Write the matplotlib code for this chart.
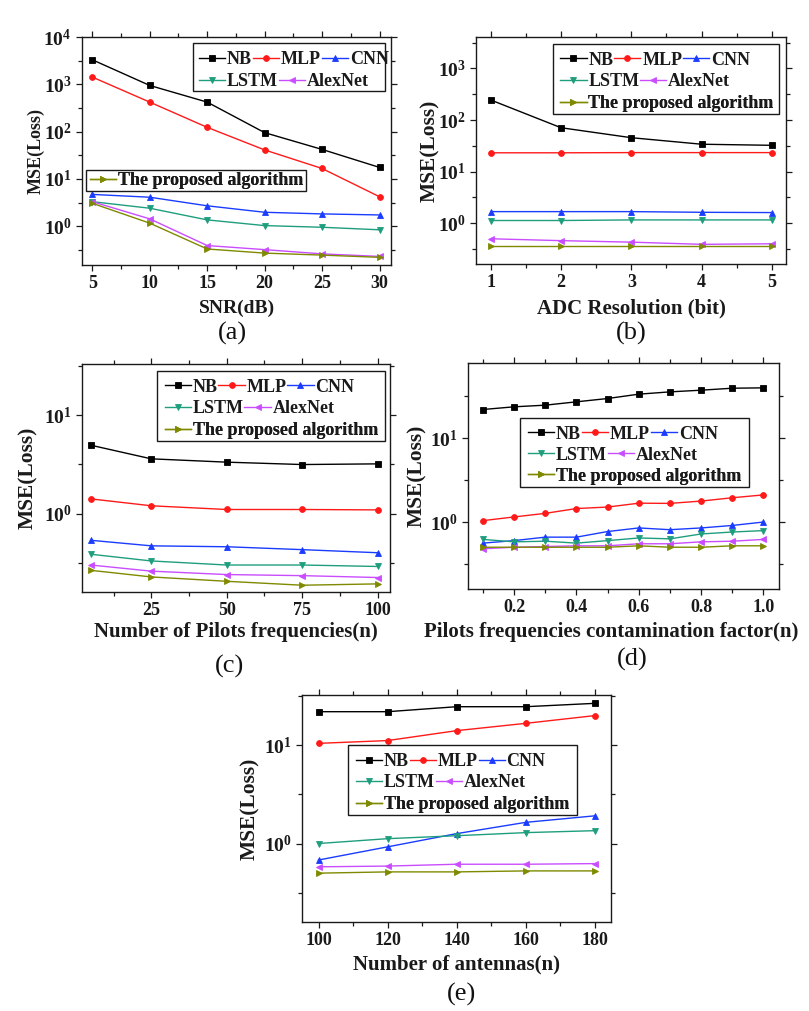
import math
import matplotlib
matplotlib.use("Agg")
import matplotlib.pyplot as plt
from matplotlib.patches import Rectangle
from matplotlib.ticker import LogLocator, FixedLocator, NullFormatter

plt.rcParams['font.family'] = ['Liberation Serif', 'DejaVu Serif']
plt.rcParams['mathtext.fontset'] = 'custom'
plt.rcParams['mathtext.rm'] = 'Liberation Serif:bold'
plt.rcParams['mathtext.it'] = 'Liberation Serif:bold'
plt.rcParams['mathtext.bf'] = 'Liberation Serif:bold'

series_names = ["NB", "MLP", "CNN", "LSTM", "AlexNet", "The proposed algorithm"]
colors = ["#000000", "#ff1a1a", "#1a3cff", "#1f9e7e", "#c94dff", "#7f8a00"]
markers = ["s", "o", "^", "v", "<", ">"]

# (a) SNR
snr = [5, 10, 15, 20, 25, 30]
a_nb = [3300, 945, 420, 95, 42, 17.5]
a_mlp = [1420, 420, 123, 41, 16.6, 4.2]
a_cnn = [4.7, 4.1, 2.7, 1.97, 1.82, 1.73]
a_lstm = [3.3, 2.4, 1.36, 1.03, 0.95, 0.84]
a_alex = [3.3, 1.43, 0.39, 0.32, 0.26, 0.23]
a_prop = [3.05, 1.16, 0.33, 0.27, 0.245, 0.22]

# (b) ADC resolution
adc = [1, 2, 3, 4, 5]
b_nb = [245, 71, 45.5, 34, 32.4]
b_mlp = [23.2, 23.2, 23.4, 23.4, 23.4]
b_cnn = [1.68, 1.68, 1.68, 1.63, 1.61]
b_lstm = [1.13, 1.13, 1.16, 1.16, 1.16]
b_alex = [0.50, 0.46, 0.43, 0.39, 0.40]
b_prop = [0.37, 0.37, 0.37, 0.37, 0.37]

# (c) Number of pilots
pilots = [5, 25, 50, 75, 100]
c_nb = [4.95, 3.6, 3.33, 3.15, 3.2]
c_mlp = [1.41, 1.2, 1.1, 1.1, 1.09]
c_cnn = [0.535, 0.47, 0.46, 0.43, 0.40]
c_lstm = [0.386, 0.33, 0.30, 0.30, 0.29]
c_alex = [0.30, 0.26, 0.24, 0.234, 0.224]
c_prop = [0.265, 0.227, 0.205, 0.187, 0.193]

# (d) contamination factor
contam = [0.1, 0.2, 0.3, 0.4, 0.5, 0.6, 0.7, 0.8, 0.9, 1.0]
d_nb = [22.1, 23.8, 24.9, 27.3, 29.9, 33.7, 35.9, 37.6, 39.7, 40.1]
d_mlp = [1.04, 1.15, 1.27, 1.45, 1.51, 1.68, 1.67, 1.78, 1.95, 2.11]
d_cnn = [0.56, 0.60, 0.66, 0.66, 0.77, 0.85, 0.81, 0.85, 0.91, 1.0]
d_lstm = [0.62, 0.58, 0.59, 0.56, 0.60, 0.645, 0.63, 0.72, 0.76, 0.79]
d_alex = [0.48, 0.50, 0.51, 0.52, 0.52, 0.55, 0.55, 0.58, 0.59, 0.62]
d_prop = [0.50, 0.50, 0.50, 0.50, 0.50, 0.52, 0.50, 0.50, 0.52, 0.52]

# (e) Number of antennas
antennas = [100, 120, 140, 160, 180]
e_nb = [21.8, 21.8, 24.5, 24.5, 26.5]
e_mlp = [10.4, 11.1, 14.0, 16.6, 19.9]
e_cnn = [0.68, 0.925, 1.26, 1.64, 1.91]
e_lstm = [1.0, 1.12, 1.2, 1.29, 1.35]
e_alex = [0.58, 0.59, 0.616, 0.616, 0.625]
e_prop = [0.50, 0.515, 0.515, 0.527, 0.527]

W, H = 809, 1011
fig = plt.figure(figsize=(W / 100, H / 100), dpi=100)
INK = '#1a1a1a'


def make_ax(x0, y0, x1, y1):
    return fig.add_axes([x0 / W, 1 - y1 / H, (x1 - x0) / W, (y1 - y0) / H])


def style(ax, xlim, ylim, xticks, xminor, xlabels, xlabel, xl_pos, yl_pos, ymajor,
          xlsize=15, ylsize=15.5):
    ax.set_yscale('log')
    ax.set_xlim(*xlim)
    ax.set_ylim(*ylim)
    ax.xaxis.set_major_locator(FixedLocator(xticks))
    ax.set_xticklabels(xlabels)
    ax.xaxis.set_minor_locator(FixedLocator(xminor))
    ax.yaxis.set_major_locator(FixedLocator(ymajor))
    ax.set_yticklabels([r'$\mathbf{10^{%d}}$' % int(round(math.log10(v))) for v in ymajor])
    ax.yaxis.set_minor_locator(LogLocator(base=10, subs=[3.1623], numticks=20))
    ax.yaxis.set_minor_formatter(NullFormatter())
    ax.tick_params(which='both', direction='out', top=True, right=True,
                   labeltop=False, labelright=False, width=0.9, color=INK)
    ax.tick_params(which='major', length=4)
    ax.tick_params(which='minor', length=3)
    for lab in ax.get_xticklabels():
        lab.set_fontfamily('Liberation Serif')
        lab.set_fontweight('bold')
        lab.set_fontsize(13)
        lab.set_color(INK)
    for lab in ax.get_yticklabels():
        lab.set_fontsize(14)
        lab.set_color(INK)
    for s in ax.spines.values():
        s.set_linewidth(1.0)
        s.set_color(INK)
    ax.set_xlabel(xlabel, fontsize=xlsize, fontweight='bold', color=INK)
    ax.xaxis.set_label_coords(*xl_pos)
    ax.set_ylabel('MSE(Loss)', fontsize=ylsize, fontweight='bold', color=INK)
    ax.yaxis.set_label_coords(*yl_pos)


def plot_all(ax, x, ys):
    lines = []
    for y, c, m, n in zip(ys, colors, markers, series_names):
        ln, = ax.plot(x, y, color=c, marker=m, markersize=4.2, linewidth=1.0,
                      markeredgewidth=0.6, label=n)
        lines.append(ln)
    return lines


leg_kw = dict(frameon=False, handlelength=1.45, handletextpad=0.1,
              columnspacing=0.05, borderpad=0.0, borderaxespad=0.0,
              prop=dict(family='Liberation Serif', weight='bold', size=13))


def add_row(ax, handles, x, y):
    lg = ax.legend(handles, [h.get_label() for h in handles], ncol=len(handles),
                   loc='center left', bbox_to_anchor=(x, y), **leg_kw)
    for t in lg.get_texts():
        t.set_color(INK)
    lg.set_zorder(6)
    ax.add_artist(lg)
    return lg


def frame(ax, x0, y0, x1, y1):
    ax.add_patch(Rectangle((x0, y0), x1 - x0, y1 - y0, transform=ax.transAxes,
                           fill=True, facecolor='white', edgecolor=INK, lw=1.0, zorder=5))


def legend_box(ax, rect, lines):
    x0, y0, x1, y1 = rect
    frame(ax, x0, y0, x1, y1)
    h = y1 - y0
    xs = x0 + 0.025
    add_row(ax, lines[0:3], xs, y1 - 0.235 * h)
    add_row(ax, lines[3:5], xs, y1 - 0.54 * h)
    add_row(ax, lines[5:6], xs, y1 - 0.85 * h)


def letter(x, y, s):
    fig.text(x / W, 1 - y / H, s, ha='center', va='center', fontsize=19,
             family='Liberation Serif', color='#111111')


# Panel (a)
ax = make_ax(82, 37, 391, 265)
la = plot_all(ax, snr, [a_nb, a_mlp, a_cnn, a_lstm, a_alex, a_prop])
style(ax, (4.1, 31), (10 ** -0.82, 1e4), snr, [7.5, 12.5, 17.5, 22.5, 27.5],
      [str(v) for v in snr], 'SNR(dB)', (0.5, -0.153), (-0.12, 0.5),
      [1, 10, 100, 1000, 10000], xlsize=14, ylsize=13)
x0, y0, x1, y1 = 0.359, 0.763, 0.98, 0.975
frame(ax, x0, y0, x1, y1)
add_row(ax, la[0:3], x0 + 0.02, y1 - 0.35 * (y1 - y0))
add_row(ax, la[3:5], x0 + 0.02, y1 - 0.80 * (y1 - y0))
frame(ax, 0.014, 0.324, 0.724, 0.416)
add_row(ax, la[5:6], 0.025, 0.37)
letter(232, 333, '(a)')

# Panel (b)
ax = make_ax(476, 37, 786, 264)
lb = plot_all(ax, adc, [b_nb, b_mlp, b_cnn, b_lstm, b_alex, b_prop])
style(ax, (0.79, 5.2), (10 ** -0.79, 10 ** 3.61), adc, [1.5, 2.5, 3.5, 4.5],
      [str(v) for v in adc], 'ADC Resolution (bit)', (0.5, -0.15), (-0.116, 0.5),
      [1, 10, 100, 1000])
legend_box(ax, (0.247, 0.659, 0.978, 0.971), lb)
letter(631, 333, '(b)')

# Panel (c)
ax = make_ax(82, 364, 390, 592)
lc = plot_all(ax, pilots, [c_nb, c_mlp, c_cnn, c_lstm, c_alex, c_prop])
style(ax, (2.06, 104.1), (10 ** -0.797, 10 ** 1.52), [25, 50, 75, 100], [12.5, 37.5, 62.5, 87.5],
      ['25', '50', '75', '100'], 'Number of Pilots frequencies(n)', (0.5, -0.13), (-0.143, 0.5),
      [1, 10])
legend_box(ax, (0.243, 0.662, 0.984, 0.971), lc)
letter(230, 666, '(c)')

# Panel (d)
ax = make_ax(468, 363, 779, 589)
ld = plot_all(ax, contam, [d_nb, d_mlp, d_cnn, d_lstm, d_alex, d_prop])
style(ax, (0.052, 1.05), (10 ** -0.80, 10 ** 1.90), [0.2, 0.4, 0.6, 0.8, 1.0],
      [0.1, 0.3, 0.5, 0.7, 0.9], ['0.2', '0.4', '0.6', '0.8', '1.0'],
      'Pilots frequencies contamination factor(n)', (0.46, -0.146), (-0.132, 0.5), [1, 10])
legend_box(ax, (0.168, 0.453, 0.903, 0.757), ld)
letter(632, 659, '(d)')

# Panel (e)
ax = make_ax(302, 695, 611, 922)
le = plot_all(ax, antennas, [e_nb, e_mlp, e_cnn, e_lstm, e_alex, e_prop])
style(ax, (95.2, 184.7), (10 ** -0.797, 10 ** 1.508), antennas, [110, 130, 150, 170],
      [str(v) for v in antennas], 'Number of antennas(n)', (0.5, -0.145), (-0.136, 0.5), [1, 10])
legend_box(ax, (0.149, 0.471, 0.89, 0.779), le)
letter(462, 994, '(e)')

fig.savefig('out.png', dpi=100, facecolor='white')
